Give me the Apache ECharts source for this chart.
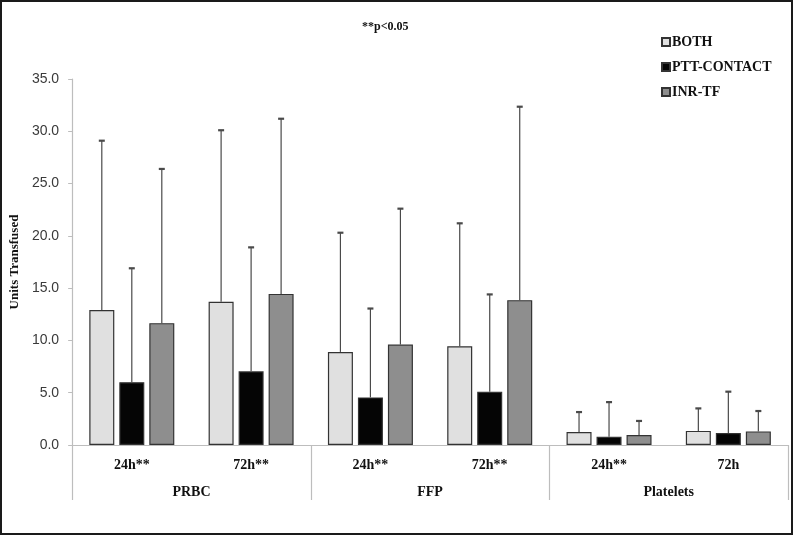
<!DOCTYPE html>
<html>
<head>
<meta charset="utf-8">
<script src="https://cdn.jsdelivr.net/npm/echarts@6/dist/echarts.min.js"></script>
<style>html,body{margin:0;padding:0;background:#fff}#c{width:800px;height:537px}</style>
</head>
<body>
<div id="c"></div>
<script>
// ---- data ----
const subCategories = ['24h**', '72h**', '24h**', '72h**', '24h**', '72h'];
const groups = ['PRBC', 'FFP', 'Platelets'];
const seriesNames = ['BOTH', 'PTT-CONTACT', 'INR-TF'];
const bothMean = [12.9, 13.7, 8.9, 9.45, 1.25, 1.35];
const bothUpper = [29.1, 30.1, 20.3, 21.2, 3.15, 3.5];
const pttMean = [6.0, 7.05, 4.55, 5.1, 0.8, 1.15];
const pttUpper = [16.9, 18.9, 13.05, 14.4, 4.1, 5.1];
const inrMean = [11.65, 14.45, 9.6, 13.85, 0.95, 1.3];
const inrUpper = [26.4, 31.2, 22.6, 32.35, 2.3, 3.25];
const yTicks = ['0.0', '5.0', '10.0', '15.0', '20.0', '25.0', '30.0', '35.0'];

const means = [bothMean, pttMean, inrMean];
const uppers = [bothUpper, pttUpper, inrUpper];
const colors = ['#e0e0e0', '#050505', '#8e8e8e'];
const barW = 25, barGapPx = 5;

const chart = echarts.init(document.getElementById('c'), null, {renderer: 'canvas'});
const serif = '"Liberation Serif", "DejaVu Serif", serif';

const series = [];
seriesNames.forEach((name, i) => {
  series.push({
    name: name,
    type: 'bar',
    xAxisIndex: 0,
    yAxisIndex: 0,
    barWidth: barW,
    barGap: (barGapPx / barW * 100) + '%',
    data: means[i],
    itemStyle: {color: colors[i], borderColor: '#333', borderWidth: 1.2},
    emphasis: {disabled: true},
    z: 2
  });
});
seriesNames.forEach((name, i) => {
  const offset = (i - 1) * (barW + barGapPx);
  series.push({
    type: 'custom',
    xAxisIndex: 0,
    yAxisIndex: 0,
    z: 3,
    silent: true,
    data: means[i].map((m, k) => [k, m, uppers[i][k]]),
    renderItem: function (params, api) {
      const base = api.coord([api.value(0), api.value(1)]);
      const top = api.coord([api.value(0), api.value(2)]);
      const x = base[0] + offset;
      return {
        type: 'group',
        children: [
          {type: 'line', shape: {x1: x, y1: base[1], x2: x, y2: top[1]}, style: {stroke: '#4a4a4a', lineWidth: 1.2}},
          {type: 'line', shape: {x1: x - 3, y1: top[1], x2: x + 3, y2: top[1]}, style: {stroke: '#4a4a4a', lineWidth: 2.2}}
        ]
      };
    }
  });
});

chart.setOption({
  animation: false,
  backgroundColor: '#fff',
  title: {
    text: '**p<0.05',
    left: 357, top: 16,
    textStyle: {fontFamily: serif, fontWeight: 'bold', fontSize: 12, color: '#111'}
  },
  legend: {
    orient: 'vertical',
    left: 656, top: 30,
    itemWidth: 8, itemHeight: 8,
    itemGap: 11,
    icon: 'rect',
    data: seriesNames,
    textStyle: {fontFamily: serif, fontWeight: 'bold', fontSize: 14, color: '#111', padding: [0, 0, 0, -3]}
  },
  grid: {left: 67, right: 12, top: 79, bottom: 92, containLabel: false},
  xAxis: [
    {
      type: 'category',
      data: subCategories,
      position: 'bottom',
      axisLine: {show: true, lineStyle: {color: '#bdbdbd', width: 1.2}},
      axisTick: {show: false},
      axisLabel: {margin: 13, fontFamily: serif, fontWeight: 'bold', fontSize: 14, color: '#111'}
    },
    {
      type: 'category',
      data: groups,
      position: 'bottom',
      axisLine: {show: false},
      axisTick: {show: true, length: 55, lineStyle: {color: '#bdbdbd', width: 1.2}},
      axisLabel: {margin: 40, fontFamily: serif, fontWeight: 'bold', fontSize: 14, color: '#111'}
    }
  ],
  yAxis: {
    type: 'value',
    min: 0, max: 35, interval: 5,
    name: 'Units Transfused',
    nameLocation: 'middle',
    nameGap: 48,
    nameTextStyle: {fontFamily: serif, fontWeight: 'bold', fontSize: 13, color: '#111'},
    axisLine: {show: true, lineStyle: {color: '#bdbdbd', width: 1.2}},
    axisTick: {show: true, length: 4, lineStyle: {color: '#bdbdbd'}},
    splitLine: {show: false},
    axisLabel: {
      margin: 13,
      fontFamily: '"Liberation Sans", Arial, sans-serif',
      fontSize: 14, color: '#3a3a3a',
      formatter: function (v) { return yTicks[Math.round(v / 5)]; }
    }
  },
  graphic: [{
    type: 'rect',
    shape: {x: 1, y: 1, width: 791, height: 533},
    style: {fill: 'none', stroke: '#1a1a1a', lineWidth: 2},
    silent: true
  }],
  series: series
});
</script>
</body>
</html>
